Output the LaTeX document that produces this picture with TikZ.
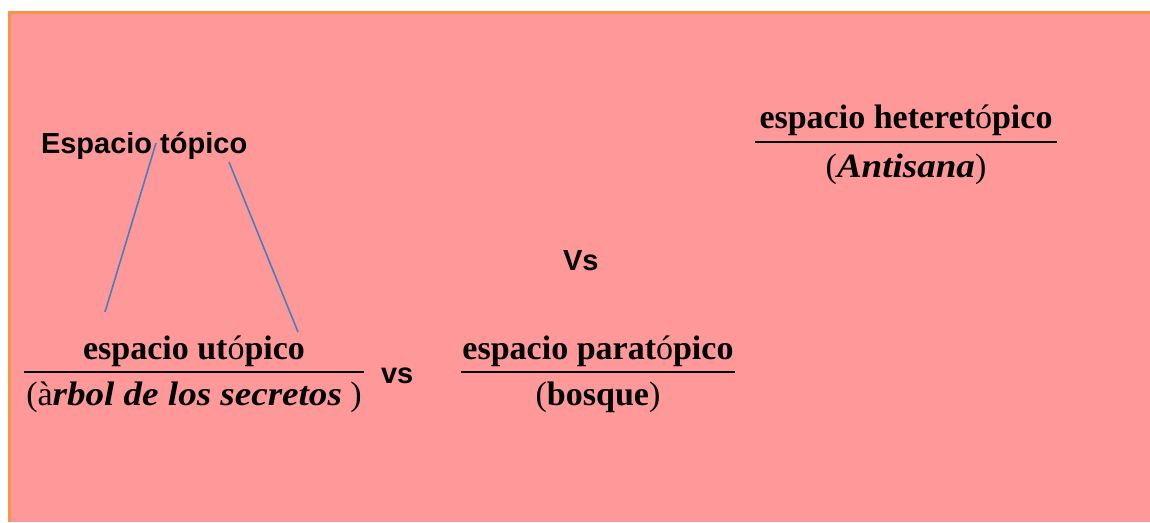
\documentclass[tikz,border=0pt]{standalone}
\usepackage{fontspec}
\setmainfont{Liberation Serif}
\newfontfamily\arialf{Liberation Sans}
\definecolor{bgpink}{HTML}{FF9999}
\definecolor{bordorange}{HTML}{F79646}
\definecolor{lineblue}{HTML}{4A7EBB}
\newcommand{\wideit}[1]{{\bfseries\itshape\addfontfeatures{FakeStretch=1.09}#1}}
\begin{document}
\begin{tikzpicture}[x=1pt,y=-1pt,
  lbl/.style={inner sep=0pt,outer sep=0pt,anchor=base,font=\fontsize{34}{34}\selectfont},
  sanslbl/.style={inner sep=0pt,outer sep=0pt,anchor=base west,font=\arialf\bfseries\fontsize{29}{29}\selectfont},
  fracbar/.style={line width=2.6pt,black},
  link/.style={lineblue,line width=1.6pt}]
\useasboundingbox (0,0) rectangle (1150,522);
\fill[white] (0,0) rectangle (1150,522);
\fill[bgpink] (9.5,12.5) rectangle (1150,522);
\draw[bordorange,line width=3pt] (9.5,522) -- (9.5,12.5) -- (1150,12.5);

% Espacio topico
\node[sanslbl] (top) at (41,153) {Espacio tópico};
\node[sanslbl] (vsbig) at (563,270) {Vs};
\node[sanslbl] (vssmall) at (381,383) {vs};

% utopico fraction
\node[lbl] (utnum) at (194,359) {\textbf{espacio ut}ó\textbf{pico}};
\node[lbl] (utden) at (194,405) {(à\wideit{rbol de los secretos} )};
\coordinate (utbarL) at (24,372);
\coordinate (utbarR) at (364,372);
\draw[fracbar] (utbarL) -- (utbarR);

% paratopico fraction
\node[lbl] (panum) at (598,359) {\textbf{espacio parat}ó\textbf{pico}};
\node[lbl] (paden) at (598,405) {(\textbf{bosque})};
\coordinate (pabarL) at (461,372);
\coordinate (pabarR) at (735,372);
\draw[fracbar] (pabarL) -- (pabarR);

% heteretopico fraction
\node[lbl] (henum) at (906,128) {\textbf{espacio heteret}ó\textbf{pico}};
\node[lbl] (heden) at (906,177) {(\wideit{Antisana})};
\coordinate (hebarL) at (755,142);
\coordinate (hebarR) at (1057,142);
\draw[fracbar] (hebarL) -- (hebarR);

% blue lines
\coordinate (l1a) at (156,143);
\coordinate (l1b) at (105,312);
\coordinate (l2a) at (229,162);
\coordinate (l2b) at (298,332);
\draw[link] (l1a) -- (l1b);
\draw[link] (l2a) -- (l2b);
\end{tikzpicture}
\end{document}
